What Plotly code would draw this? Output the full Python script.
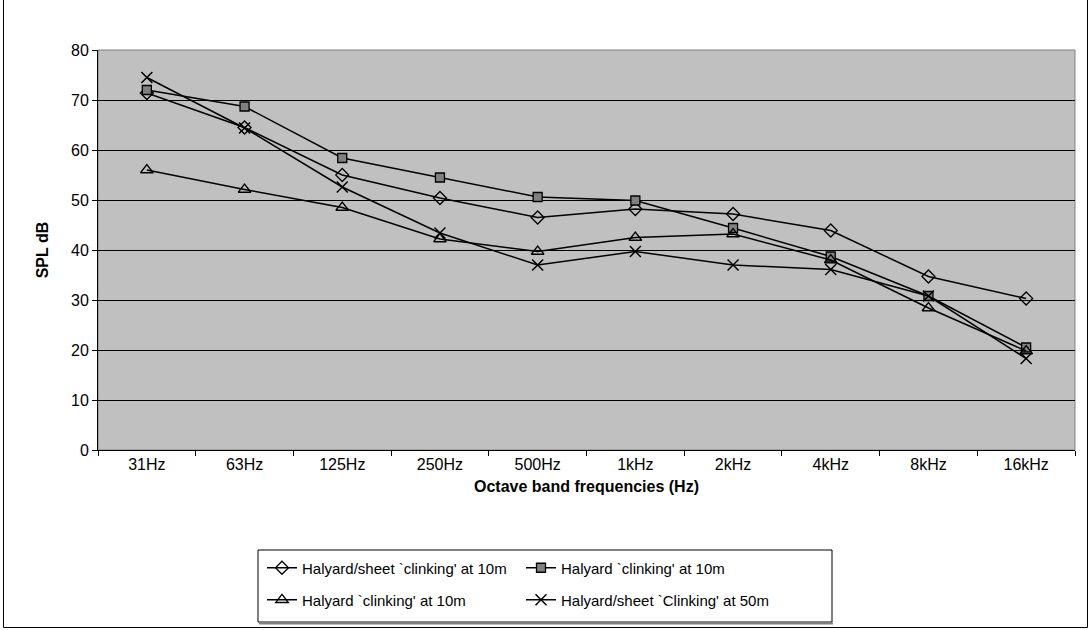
import plotly.graph_objects as go

bands = ['31Hz', '63Hz', '125Hz', '250Hz', '500Hz', '1kHz', '2kHz', '4kHz', '8kHz', '16kHz']
sheet_10m = [71.4, 64.5, 55.0, 50.4, 46.5, 48.2, 47.2, 43.9, 34.7, 30.3]
halyard_10m_a = [72.0, 68.7, 58.4, 54.5, 50.6, 49.9, 44.4, 38.7, 30.8, 20.5]
halyard_10m_b = [56.0, 52.1, 48.5, 42.2, 39.7, 42.5, 43.2, 38.0, 28.4, 19.8]
sheet_50m = [74.5, 64.4, 52.6, 43.4, 37.0, 39.7, 37.0, 36.1, 30.8, 18.3]

names = ["Halyard/sheet `clinking' at 10m", "Halyard `clinking' at 10m",
         "Halyard `clinking' at 10m", "Halyard/sheet `Clinking' at 50m"]

FONT = 'Liberation Sans, Arial, sans-serif'

W, H = 1090, 630
L, R, T, B = 98, 1075, 50, 450  # plot area in page pixels


def px(x):
    return (x - L) / (R - L)


def py(y):
    return (B - y) / (B - T)


series = [
    (sheet_10m, names[0], dict(symbol='diamond-open', size=10, color='black', line=dict(width=1.3)), 'legend'),
    (halyard_10m_a, names[1], dict(symbol='square', size=9, color='#808080', line=dict(color='black', width=1.3)), 'legend'),
    (halyard_10m_b, names[2], dict(symbol='triangle-up-open', size=11, color='black', line=dict(width=1.3)), 'legend2'),
    (sheet_50m, names[3], dict(symbol='x-thin-open', size=11, color='black', line=dict(width=1.5)), 'legend2'),
]

fig = go.Figure()
for vals, name, marker, leg in series:
    fig.add_trace(go.Scatter(
        x=bands, y=vals, name=name, mode='lines+markers',
        line=dict(color='black', width=1.5), marker=marker, legend=leg,
    ))

leg_common = dict(
    orientation='h', xanchor='left', yanchor='middle', x=px(262),
    bgcolor='rgba(0,0,0,0)', borderwidth=0, entrywidth=214,
    font=dict(family=FONT, size=15, color='black'),
)

fig.update_layout(
    width=W, height=H,
    margin=dict(l=L, r=W - R, t=T, b=H - B),
    paper_bgcolor='white', plot_bgcolor='#C0C0C0',
    font=dict(family=FONT, size=16, color='black'),
    showlegend=True,
    legend=dict(y=py(568), **leg_common),
    legend2=dict(y=py(600), **leg_common),
    xaxis=dict(
        type='category', tickson='boundaries', ticks='outside', ticklen=5, tickcolor='black',
        showline=True, linecolor='black', linewidth=1, showgrid=False,
        tickfont=dict(size=16), range=[-0.5, 9.5],
        title=dict(text='Octave band frequencies (Hz)', font=dict(size=16, weight='bold'), standoff=8),
    ),
    yaxis=dict(
        range=[0, 80], dtick=10, ticks='outside', ticklen=5, tickcolor='black',
        showline=True, linecolor='black', linewidth=1,
        showgrid=True, gridcolor='black', gridwidth=1, zeroline=False,
        tickfont=dict(size=16),
        title=dict(text='SPL dB', font=dict(size=16, weight='bold'), standoff=18),
    ),
    shapes=[
        # gray plot area border
        dict(type='rect', xref='paper', yref='paper', x0=0, x1=1, y0=0, y1=1,
             line=dict(color='#808080', width=1), layer='below'),
        # legend box, with a gray shadow line along its bottom
        dict(type='rect', xref='paper', yref='paper', x0=px(258), x1=px(832), y0=py(622), y1=py(550),
             line=dict(color='black', width=1), fillcolor='rgba(0,0,0,0)'),
        dict(type='line', xref='paper', yref='paper', x0=px(259), x1=px(833), y0=py(623.5), y1=py(623.5),
             line=dict(color='#808080', width=2)),
        # outer chart frame
        dict(type='rect', xref='paper', yref='paper', x0=px(3.5), x1=px(1087.5), y0=py(627.5), y1=py(-2),
             line=dict(color='black', width=1), fillcolor='rgba(0,0,0,0)'),
    ],
)

# drop the default body margin so the figure sits at the page origin
fig.write_html('out.html', config={'displayModeBar': False},
               post_script="document.body.style.margin='0';")
